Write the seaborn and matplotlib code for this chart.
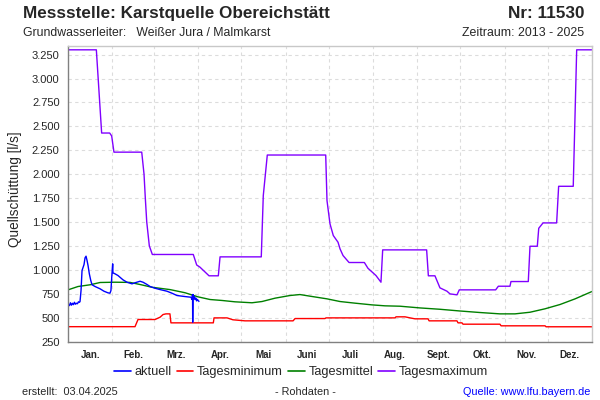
import matplotlib
matplotlib.use("Agg")
import matplotlib.pyplot as plt
from matplotlib.ticker import FixedLocator, FuncFormatter, NullFormatter
from matplotlib.lines import Line2D
import seaborn as sns
import pandas as pd

# ---- data (day of year, value in l/s) ----
month_names = ["Jan.", "Feb.", "Mrz.", "Apr.", "Mai", "Juni", "Juli", "Aug.", "Sept.", "Okt.", "Nov.", "Dez."]
month_starts = [0, 31, 60, 91, 121, 152, 182, 213, 244, 274, 305, 335, 366]

max_days = [0, 19.8, 23.5, 29.1, 30.5, 32.1, 51.5, 53.1, 54.0, 55.0, 56.8, 58.9, 87.5, 89.9, 92.2, 98.5, 105,
            106.2, 135, 136.4, 139.2, 180, 180.9, 183, 185.3, 188.6, 190, 192.1, 196.3, 207, 209.5, 215.1, 218.6,
            219.8, 250.5, 251.7, 256.3, 259.8, 264.7, 266.8, 271.7, 273.3, 298.7, 300.6, 308.7, 309.4, 321.5,
            322.7, 327.8, 328.8, 331.8, 341.3, 342.7, 352.9, 355.3, 366]
max_vals = [3300, 3300, 2430, 2430, 2400, 2230, 2230, 2000, 1750, 1500, 1250, 1160, 1160, 1050, 1027, 937, 937,
            1135, 1135, 1776, 2200, 2200, 1724, 1480, 1358, 1288, 1219, 1149, 1076, 1076, 1016, 940, 870,
            1208, 1208, 937, 937, 811, 776, 748, 738, 790, 790, 828, 828, 877, 877,
            1246, 1246, 1434, 1490, 1490, 1873, 1873, 3300, 3300]

mean_days = [0, 7, 15.4, 22.4, 32.8, 43.3, 50.3, 58.7, 71.2, 81.7, 90.8, 99.2, 107.6, 116.6, 128.5, 135.5, 144.6,
             155.1, 162, 169, 180.9, 190, 200.4, 212.3, 221.4, 231.9, 245.9, 259.8, 273.8, 287.8, 301.7, 312.2,
             322.7, 333.2, 343.7, 354.2, 366]
mean_vals = [790, 825, 843, 867, 870, 868, 846, 817, 793, 760, 717, 689, 679, 665, 655, 668, 703,
             731, 741, 724, 696, 668, 651, 633, 623, 619, 601, 587, 569, 553, 539, 539,
             556, 592, 637, 696, 773]

min_days = [0, 46.8, 48.9, 60.8, 64.3, 66.4, 68.4, 71.2, 71.9, 101.5, 102, 111.1, 115.2, 123.6, 157.2, 158.6,
            179.5, 180.2, 228.4, 229.1, 235.4, 238.9, 242.4, 251.5, 252.2, 271.7, 272.4, 275.2, 275.9, 301.7,
            302.5, 333.2, 333.9, 366]
min_vals = [405, 405, 480, 480, 504, 532, 539, 539, 445, 445, 497, 497, 477, 466, 466, 490,
            490, 497, 497, 508, 508, 497, 487, 487, 466, 466, 445, 445, 431, 431,
            414, 414, 404, 404]

akt_days = [0.3, 1.0, 1.7, 2.4, 3.1, 3.8, 4.5, 5.2, 5.9, 6.6, 7.3, 8.0, 8.4, 9.1, 9.8, 11.2, 11.9, 12.6, 13.3, 14.0,
            14.9, 15.9, 16.8, 18.9, 22.4, 25.1, 27.9, 29.3, 30.0, 30.7, 31.2, 31.4, 32.8, 34.9, 36.3, 38.4,
            41.2, 44.7, 46.8, 50.3, 52.4, 55.2, 57.3, 60.8, 64.3, 69.1, 72.6, 76.1, 81.7, 85.9, 86.6, 87.0,
            87.1, 87.3, 87.7, 88.2, 88.7, 89.3, 89.8, 90.3, 90.8, 91.5]
akt_vals = [640, 625, 655, 630, 650, 635, 660, 640, 650, 645, 665, 660, 668, 783, 992, 1055, 1125, 1142, 1097, 1044,
            958, 888, 843, 825, 801, 776, 759, 755, 783, 958, 1062, 968, 958, 940, 922, 895,
            870, 853, 864, 880, 870, 846, 825, 807, 793, 776, 755, 731, 720, 713, 690, 741,
            452, 741, 700, 720, 689, 705, 675, 690, 679, 670]

series = [
    ("Tagesmaximum", max_days, max_vals, "#8000ff"),
    ("Tagesminimum", min_days, min_vals, "#ff0000"),
    ("Tagesmittel", mean_days, mean_vals, "#008000"),
    ("aktuell", akt_days, akt_vals, "#0000ff"),
]
legend_order = ["aktuell", "Tagesminimum", "Tagesmittel", "Tagesmaximum"]

# ---- plotting ----
sns.set_style("white")
plt.rcParams["font.family"] = ["Liberation Sans", "DejaVu Sans"]

fig = plt.figure(figsize=(6, 4), dpi=100)
ax = fig.add_axes([68 / 600, 1 - 341.5 / 400, 524 / 600, 295.5 / 400])

colors = {}
for name, d, v, c in series:
    df = pd.DataFrame({"Tag": d, "Wert": v})
    sns.lineplot(data=df, x="Tag", y="Wert", ax=ax, color=c, linewidth=1.0, estimator=None, sort=False)
    colors[name] = c

ax.set_xlim(0, 366)
ax.set_ylim(250, 3340)
ax.set_xlabel("")
ax.set_ylabel("Quellschüttung [l/s]", fontsize=9.8)
ax.yaxis.set_label_coords((22 - 68) / 524, 0.516)

yt = list(range(250, 3251, 250))
ax.yaxis.set_major_locator(FixedLocator(yt))
ax.yaxis.set_major_formatter(FuncFormatter(lambda v, p: f"{int(v):,}".replace(",", ".")))
ax.xaxis.set_major_locator(FixedLocator(month_starts))
ax.xaxis.set_major_formatter(NullFormatter())
mids = [(month_starts[i] + month_starts[i + 1]) / 2 for i in range(12)]
ax.xaxis.set_minor_locator(FixedLocator(mids))
ax.xaxis.set_minor_formatter(FuncFormatter(lambda v, p: month_names[mids.index(v)] if v in mids else ""))
ax.tick_params(axis="x", which="minor", length=0, labelsize=7, pad=6)
for t in ax.xaxis.get_minorticklabels():
    t.set_fontweight("bold")
ax.tick_params(axis="x", which="major", length=4, color="#808080", direction="out")
ax.tick_params(axis="y", which="major", length=3, color="#808080", direction="out", labelsize=8, pad=3)
ax.grid(True, which="major", color="#dcdcdc", linestyle=(0, (3, 3)), linewidth=0.8)

for s in ["left", "bottom"]:
    ax.spines[s].set_color("#808080")
    ax.spines[s].set_linewidth(1)
for s in ["top", "right"]:
    ax.spines[s].set_color("#c8c8c8")
    ax.spines[s].set_linewidth(1)

handles = [Line2D([0], [0], color=colors[n], linewidth=1.2) for n in legend_order]
fig.legend(handles, legend_order, loc="center", bbox_to_anchor=(301 / 600, 1 - 372 / 400), ncol=4, frameon=False,
           fontsize=9.2, handlelength=1.3, handletextpad=0.3, columnspacing=0.4)

fig.text(23 / 600, 1 - 13.5 / 400, "Messstelle: Karstquelle Obereichstätt", fontsize=12.3, fontweight="bold",
         va="center", ha="left")
fig.text(584 / 600, 1 - 13.5 / 400, "Nr: 11530", fontsize=12.3, fontweight="bold", va="center", ha="right")
fig.text(23 / 600, 1 - 33 / 400, "Grundwasserleiter:   Weißer Jura / Malmkarst", fontsize=8.8, va="center", ha="left")
fig.text(584 / 600, 1 - 33 / 400, "Zeitraum: 2013 - 2025", fontsize=8.9, va="center", ha="right")
fig.text(22 / 600, 1 - 392 / 400, "erstellt:  03.04.2025", fontsize=7.8, va="center", ha="left")
fig.text(305 / 600, 1 - 392 / 400, "- Rohdaten -", fontsize=7.8, va="center", ha="center")
fig.text(590 / 600, 1 - 392 / 400, "Quelle: www.lfu.bayern.de", fontsize=7.8, va="center", ha="right", color="#0000ff")

fig.savefig("out.png", dpi=100)
